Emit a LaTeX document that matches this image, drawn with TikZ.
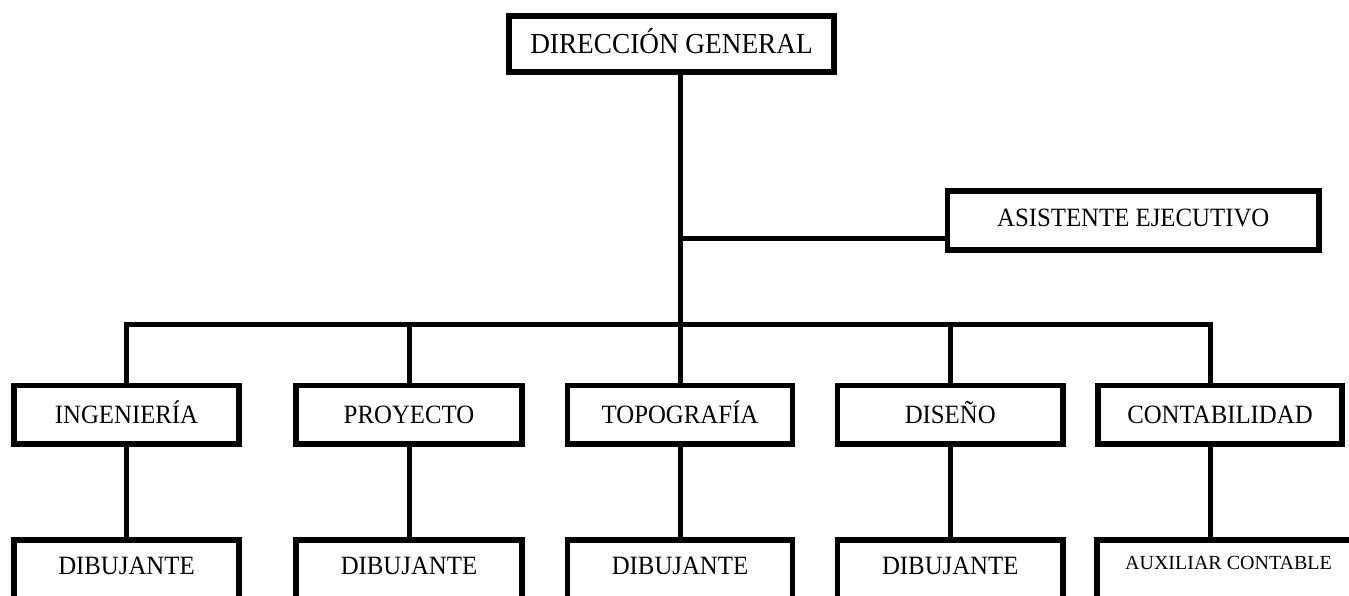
\documentclass[tikz,border=0pt]{standalone}
\usepackage{fontspec}
\setmainfont[FakeStretch=0.94]{Liberation Serif}
\newfontfamily\plainserif{Liberation Serif}

\begin{document}
\begin{tikzpicture}[x=1pt,y=-1pt,
    box/.style={draw,line width=5.5pt,inner sep=0pt,outer sep=0pt,minimum height=58.5pt,text height=17.5pt,text depth=0pt,font=\fontsize{26.4}{30}\selectfont},
    lowbox/.style={box,anchor=north,minimum height=0pt,text height=34.75pt,text depth=80pt},
    link/.style={line width=5pt}]
    \useasboundingbox (0,0) rectangle (1349,595);
    \node[box,minimum width=325pt,minimum height=56pt,text height=19.2pt,font=\fontsize{29}{32}\selectfont] (dir) at (671.5,44) {DIRECCIÓN GENERAL};
    \node[box,minimum width=371.5pt,minimum height=59pt,text depth=5pt] (asis) at (1133.25,220.5) {ASISTENTE EJECUTIVO};
    \node[box,minimum width=225pt] (ing) at (126.5,414.75) {INGENIERÍA};
    \node[box,minimum width=226pt] (proy) at (409,414.75) {PROYECTO};
    \node[box,minimum width=225pt] (topo) at (680,414.75) {TOPOGRAFÍA};
    \node[box,minimum width=225.5pt] (dis) at (950.25,414.75) {DISEÑO};
    \node[box,minimum width=244pt] (cont) at (1220,414.75) {CONTABILIDAD};
    \node[lowbox,minimum width=225pt] (dib1) at (126.5,540) {DIBUJANTE};
    \node[lowbox,minimum width=226pt] (dib2) at (409,540) {DIBUJANTE};
    \node[lowbox,minimum width=225pt] (dib3) at (680,540) {DIBUJANTE};
    \node[lowbox,minimum width=225.5pt] (dib4) at (950.25,540) {DIBUJANTE};
    \node[lowbox,minimum width=263pt,text height=29.6pt,font=\plainserif\fontsize{20}{24}\selectfont] (aux) at (1228.5,540) {AUXILIAR CONTABLE};
    \coordinate (busR) at (1210,324.5);
    \draw[link] (dir.south -| topo.north) -- (topo.north);
    \draw[link] ([yshift=-17.5pt]asis.west) -- ([yshift=-17.5pt]asis.west -| topo.north);
    \draw[link] (ing.north) |- (busR) -- (busR |- cont.north);
    \draw[link] (proy.north) -- (proy.north |- busR);
    \draw[link] (dis.north) -- (dis.north |- busR);
    \foreach \a/\b in {ing/dib1,proy/dib2,topo/dib3,dis/dib4}
      \draw[link] (\a.south) -- (\b.north);
    \draw[link] (cont.south -| busR) -- (aux.north -| busR);
  \end{tikzpicture}
\end{document}
